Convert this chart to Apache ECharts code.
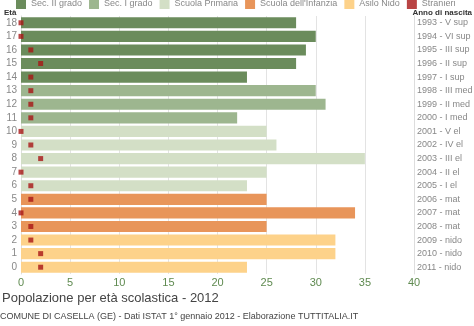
<!DOCTYPE html>
<html><head><meta charset="utf-8">
<script src="https://cdn.jsdelivr.net/npm/echarts@6/dist/echarts.min.js"></script>
<style>html,body{margin:0;padding:0;background:#fff}#c{width:474px;height:326px}</style>
</head><body><div id="c"></div>
<script>
// ages 0..18 (bottom to top)
const ages = ['0','1','2','3','4','5','6','7','8','9','10','11','12','13','14','15','16','17','18'];
const yearLabels = ['2011 - nido','2010 - nido','2009 - nido','2008 - mat','2007 - mat','2006 - mat','2005 - I el','2004 - II el','2003 - III el','2002 - IV el','2001 - V el','2000 - I med','1999 - II med','1998 - III med','1997 - I sup','1996 - II sup','1995 - III sup','1994 - VI sup','1993 - V sup'];
const totals = [23,32,32,25,34,25,23,25,35,26,25,22,31,30,23,28,29,30,28];
const stranieri = [2,2,1,1,0,1,1,0,2,1,0,1,1,1,1,2,1,0,0];
const levelNames = ['Sec. II grado','Sec. I grado','Scuola Primaria',"Scuola dell'Infanzia",'Asilo Nido'];
const levelOfAge = [4,4,4,3,3,3,2,2,2,2,2,1,1,1,0,0,0,0,0];
const colors = ['#6b8c5c','#9db68f','#d3dfc6','#e8955a','#fdd28a'];
const xTicks = [0,5,10,15,20,25,30,35,40];

const series = levelNames.map((n,li)=>({
  name:n, type:'bar', stack:'s', barCategoryGap:'18%',
  itemStyle:{color:colors[li]},
  data: totals.map((v,i)=> levelOfAge[i]===li ? v : '-')
}));
series.push({
  name:'Stranieri', type:'scatter', symbol:'rect', symbolSize:5,
  itemStyle:{color:'#a81515'}, z:5,
  data: stranieri.map((v,i)=>[v,i])
});

const chart = echarts.init(document.getElementById('c'));
chart.setOption({
  animation:false,
  textStyle:{fontFamily:'Liberation Sans, Arial, sans-serif'},
  legend:{
    top:-1, left:16, width:470, padding:0, itemWidth:10, itemHeight:10, itemGap:7,
    textStyle:{color:'#888',fontSize:9, padding:[0,0,0,0]},
    data: levelNames.concat(['Stranieri']).map(n=>({name:n, icon:'rect'}))
  },
  grid:{left:21, right:60, top:16, bottom:52, containLabel:false, outerBoundsMode:'none'},
  xAxis:{
    type:'value', min:0, max:40, interval:5,
    axisLine:{show:false}, axisTick:{show:false},
    splitLine:{show:true, lineStyle:{color:'#e3e3e3'}},
    axisLabel:{color:'#5f8a50', fontSize:11, margin:3,
      formatter:v=> xTicks.includes(v)? String(v):''}
  },
  yAxis:[{
    type:'category', data:ages,
    axisLine:{show:true, lineStyle:{color:'#ddd'}}, axisTick:{show:false},
    axisLabel:{color:'#888', fontSize:10, margin:4}
  },{
    type:'category', data:yearLabels, position:'right',
    axisLine:{show:true, lineStyle:{color:'#ddd'}}, axisTick:{show:false},
    axisLabel:{color:'#888', fontSize:9, margin:3, align:'left'}
  }],
  series: series,
  graphic:[
    {type:'text', left:4, top:9, style:{text:'Età', font:'bold 8px Liberation Sans, Arial', fill:'#333'}},
    {type:'text', right:2, top:9, style:{text:'Anno di nascita', font:'bold 8px Liberation Sans, Arial', fill:'#333'}},
    {type:'text', left:2, top:292, style:{text:'Popolazione per età scolastica - 2012', font:'13px Liberation Sans, Arial', fill:'#444'}},
    {type:'text', left:0, top:312, style:{text:'COMUNE DI CASELLA (GE) - Dati ISTAT 1° gennaio 2012 - Elaborazione TUTTITALIA.IT', font:'9px Liberation Sans, Arial', fill:'#444'}}
  ]
});
</script></body></html>
